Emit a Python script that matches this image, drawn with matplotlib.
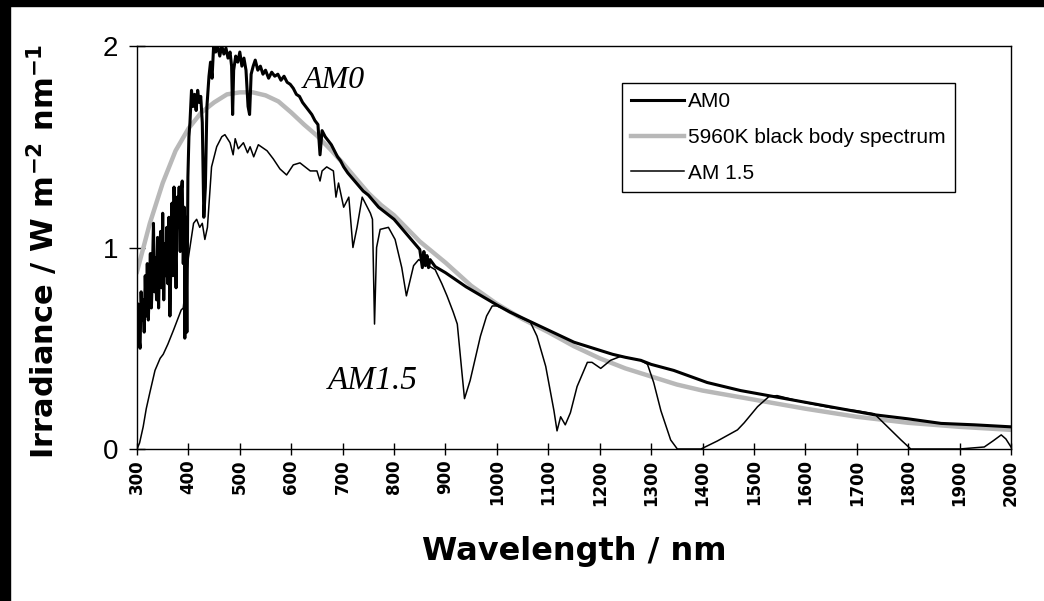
import numpy as np
import matplotlib
matplotlib.use('Agg')
import matplotlib.pyplot as plt
from matplotlib.patches import Rectangle

# AM0 extraterrestrial spectrum
am0_wl = [300, 302, 304, 306, 308, 310, 312, 314, 316, 318, 320, 322, 324, 326,
          328, 330, 332, 334, 336, 338, 340, 342, 344, 346, 348, 350, 352, 354,
          356, 358, 360, 362, 364, 366, 368, 370, 372, 374, 376, 378, 380, 382,
          384, 386, 388, 390, 392, 393, 395, 397, 399, 401,
          403, 406, 409, 412, 415, 418, 421,
          424, 427, 430, 433, 436, 440, 443, 446, 449, 453, 457, 461, 465, 469,
          473, 477, 481, 484, 486, 488, 492, 496, 500, 504, 508, 512, 516, 519,
          522, 526, 530, 535, 540, 545, 550, 556, 562, 568, 574, 580, 586, 592,
          598, 604, 610, 616, 622, 628, 634, 640, 646, 652, 656, 660, 666, 672,
          678, 684, 690, 696, 702, 710, 720, 730, 740, 750, 760, 770, 780, 790,
          800, 810, 820, 830, 840, 850, 855, 858, 861, 864, 867, 870, 880, 890,
          900, 920, 940, 960, 980, 1000, 1025, 1050, 1075, 1100, 1125, 1150,
          1175, 1200, 1225, 1250, 1280, 1300, 1344, 1409, 1474, 1539, 1604,
          1669, 1734, 1799, 1864, 1929, 2000]
am0_irr = [0.52, 0.72, 0.55, 0.50, 0.78, 0.64, 0.74, 0.58, 0.86, 0.66, 0.92, 0.64,
           0.80, 0.97, 0.70, 0.88, 1.12, 0.78, 0.95, 0.74, 1.05, 0.70, 0.98, 1.08,
           0.80, 1.17, 0.74, 1.02, 0.86, 1.10, 0.82, 1.15, 0.66, 0.95, 1.22, 0.86,
           1.30, 1.05, 0.80, 1.25, 1.10, 1.30, 0.98, 1.28, 1.33, 0.92, 1.20, 0.55,
           1.15, 0.58, 1.35, 1.55,
           1.62, 1.78, 1.70, 1.76, 1.68, 1.78, 1.72, 1.75, 1.62, 1.15, 1.30, 1.70,
           1.85, 1.92, 1.84, 2.00, 1.97, 2.00, 1.95, 2.00, 1.96, 1.99, 1.94, 1.97,
           1.90, 1.66, 1.88, 1.95, 1.92, 1.97, 1.90, 1.94, 1.88, 1.70, 1.66, 1.86,
           1.90, 1.93, 1.88, 1.90, 1.86, 1.88, 1.84, 1.87, 1.85, 1.86, 1.83, 1.85,
           1.82, 1.81, 1.79, 1.76, 1.75, 1.72, 1.70, 1.68, 1.66, 1.63, 1.61, 1.46,
           1.58, 1.55, 1.53, 1.51, 1.48, 1.45, 1.43, 1.40, 1.37, 1.34, 1.31, 1.28,
           1.26, 1.23, 1.20, 1.18, 1.16, 1.14, 1.11, 1.08, 1.05, 1.02, 0.99, 0.90,
           0.98, 0.91, 0.96, 0.90, 0.94, 0.905, 0.89, 0.875, 0.84, 0.805, 0.775,
           0.745, 0.715, 0.68, 0.65, 0.62, 0.59, 0.56, 0.53, 0.51, 0.49, 0.47,
           0.455, 0.44, 0.42, 0.39, 0.33, 0.29, 0.26, 0.23, 0.20, 0.17, 0.15,
           0.127, 0.12, 0.11]

# 5960K black body curve
bb_wl = [300, 325, 350, 375, 400, 425, 450, 475, 500, 525, 550, 575, 600, 625,
         650, 675, 700, 725, 750, 775, 800, 850, 900, 950, 1000, 1050, 1100,
         1150, 1200, 1250, 1300, 1350, 1400, 1500, 1600, 1700, 1800, 1900, 2000]
bb_irr = [0.88, 1.12, 1.32, 1.48, 1.59, 1.67, 1.72, 1.76, 1.77, 1.77, 1.755,
          1.725, 1.67, 1.61, 1.555, 1.49, 1.42, 1.345, 1.27, 1.21, 1.16, 1.03,
          0.925, 0.81, 0.72, 0.645, 0.58, 0.51, 0.45, 0.40, 0.36, 0.32, 0.29,
          0.245, 0.20, 0.16, 0.13, 0.11, 0.095]

# AM1.5 terrestrial spectrum
am15_wl = [300, 305, 312, 318, 325, 335, 345, 351, 360, 371, 380, 386, 390, 400,
           410, 416, 422, 427, 432, 437, 445, 455, 465, 471, 481, 487, 491, 497,
           507, 515, 520, 527, 536, 553, 565, 578, 591, 604, 617, 637, 650, 656,
           660, 669, 682, 687, 692, 702, 712, 720, 728, 738, 754, 758, 762, 766,
           773, 789, 802, 815, 824, 838, 848, 860, 880, 893, 903, 915, 923, 932,
           937, 948, 958, 968, 980, 991, 1000, 1020, 1039, 1065, 1078, 1095,
           1111, 1117, 1124, 1133, 1143, 1156, 1176, 1185, 1202, 1221, 1241,
           1260, 1280, 1293, 1305, 1319, 1338, 1351, 1397, 1429, 1468, 1481,
           1507, 1529, 1545, 1600, 1650, 1700, 1734, 1760, 1786, 1805, 1850,
           1900, 1948, 1965, 1981, 1990, 2000]
am15_irr = [0.00, 0.03, 0.11, 0.20, 0.28, 0.39, 0.45, 0.47, 0.52, 0.59, 0.65,
            0.69, 0.70, 0.95, 1.12, 1.14, 1.10, 1.12, 1.04, 1.10, 1.40, 1.50,
            1.55, 1.56, 1.52, 1.46, 1.54, 1.49, 1.52, 1.47, 1.50, 1.45, 1.51,
            1.48, 1.44, 1.39, 1.36, 1.41, 1.42, 1.38, 1.38, 1.33, 1.38, 1.40,
            1.38, 1.25, 1.32, 1.20, 1.25, 1.00, 1.10, 1.25, 1.17, 1.14, 0.62,
            1.00, 1.09, 1.10, 1.04, 0.90, 0.76, 0.91, 0.94, 0.92, 0.89, 0.82,
            0.76, 0.68, 0.62, 0.38, 0.25, 0.34, 0.45, 0.56, 0.66, 0.71, 0.71,
            0.69, 0.66, 0.63, 0.56, 0.41, 0.19, 0.09, 0.16, 0.12, 0.18, 0.31,
            0.43, 0.43, 0.40, 0.44, 0.46, 0.45, 0.44, 0.42, 0.33, 0.19, 0.045,
            0.0, 0.0, 0.04, 0.095, 0.13, 0.21, 0.26, 0.265, 0.23, 0.205, 0.19,
            0.175, 0.11, 0.045, 0.0, 0.0, 0.0, 0.01, 0.04, 0.07, 0.05, 0.01]

xticks = list(range(300, 2001, 100))
yticks = [0, 1, 2]

fig = plt.figure(figsize=(10.44, 6.01), dpi=100)
W, H = 1044, 601
ax = fig.add_axes([137 / W, 1 - 449 / H, (1011 - 137) / W, (449 - 46) / H])

ax.plot(bb_wl, bb_irr, color='#b8b8b8', lw=3.2, label='5960K black body spectrum', zorder=2)
ax.plot(am0_wl, am0_irr, color='black', lw=2.2, label='AM0', zorder=3)
ax.plot(am15_wl, am15_irr, color='black', lw=1.1, label='AM 1.5', zorder=4)

ax.set_xlim(300, 2000)
ax.set_ylim(0, 2)
ax.set_xticks(xticks)
ax.set_xticklabels([str(t) for t in xticks], rotation=90, fontsize=12,
                   fontweight='bold', family='DejaVu Sans')
ax.set_yticks(yticks)
ax.set_yticklabels([str(t) for t in yticks], fontsize=20, family='Liberation Sans')
ax.tick_params(axis='x', direction='inout', length=9, width=1, pad=3)
ax.tick_params(axis='y', direction='inout', length=11, width=1, pad=8)
for s in ax.spines.values():
    s.set_linewidth(1.0)

ax.set_xlabel('Wavelength / nm', fontsize=23, fontweight='bold')
ax.xaxis.set_label_coords(0.5, -0.215)
ax.set_ylabel(r'Irradiance / W m$^{\mathbf{-2}}$ nm$^{\mathbf{-1}}$', fontsize=22,
              fontweight='bold')
ax.yaxis.set_label_coords(-0.088, 0.49)

# legend, same order as in the original
h, l = ax.get_legend_handles_labels()
order = [1, 0, 2]
leg = ax.legend([h[i] for i in order], [l[i] for i in order], loc='upper left',
                bbox_to_anchor=(0.555, 0.908), frameon=True, fancybox=False,
                edgecolor='black', framealpha=1, handlelength=2.5,
                handletextpad=0.2, borderpad=0.45, labelspacing=0.8,
                borderaxespad=0, prop={'family': 'Liberation Sans', 'size': 15})
leg.get_frame().set_linewidth(1.0)

ax.text(623, 1.79, 'AM0', fontsize=23, style='italic', family='Liberation Serif')
ax.text(672, 0.30, 'AM1.5', fontsize=24, style='italic', family='Liberation Serif')

# black scan borders
fig.patches.append(Rectangle((0, 1 - 6 / H), 1, 6 / H, transform=fig.transFigure,
                             color='black', zorder=10))
fig.patches.append(Rectangle((0, 0), 10 / W, 1, transform=fig.transFigure,
                             color='black', zorder=10))

fig.savefig('out.png', dpi=100)
